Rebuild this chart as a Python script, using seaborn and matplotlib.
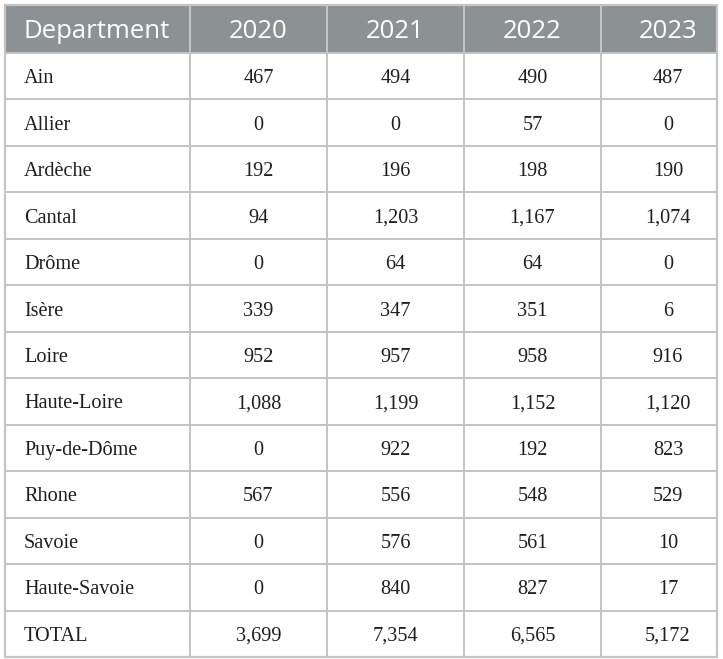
import numpy as np
import matplotlib
matplotlib.use("Agg")
import matplotlib.pyplot as plt
import seaborn as sns
from matplotlib.colors import ListedColormap

departments = ["Ain", "Allier", "Ardèche", "Cantal", "Drôme", "Isère", "Loire",
               "Haute-Loire", "Puy-de-Dôme", "Rhone", "Savoie", "Haute-Savoie", "TOTAL"]
years = ["2020", "2021", "2022", "2023"]
v2020 = [467, 0, 192, 94, 0, 339, 952, 1088, 0, 567, 0, 0, 3699]
v2021 = [494, 0, 196, 1203, 64, 347, 957, 1199, 922, 556, 576, 840, 7354]
v2022 = [490, 57, 198, 1167, 64, 351, 958, 1152, 192, 548, 561, 827, 6565]
v2023 = [487, 0, 190, 1074, 0, 6, 916, 1120, 823, 529, 10, 17, 5172]

sns.set_style("white")

W, H = 723, 659
fig = plt.figure(figsize=(W / 100, H / 100), dpi=100)
left, right, top, bottom = 5, 717, 5, 657
ax = fig.add_axes([left / W, 1 - bottom / H, (right - left) / W, (bottom - top) / H])

col_w = [185, 137, 137, 137, 116]
row_h = [48] + [46.5] * len(departments)
xe = np.concatenate([[0], np.cumsum(col_w)])
ye = np.concatenate([[0], np.cumsum(row_h)])

n_rows = len(row_h)
n_cols = len(col_w)
grid = np.zeros((n_rows, n_cols))
grid[0, :] = 1
cmap = ListedColormap(["white", "#8c9294"])
ax.pcolormesh(xe, ye, grid, cmap=cmap, edgecolor="#c4c4c4", linewidth=1.4, vmin=0, vmax=1)
ax.set_xlim(xe[0], xe[-1])
ax.set_ylim(ye[-1], ye[0])
ax.set_axis_off()
ax.plot([xe[0], xe[-1], xe[-1], xe[0], xe[0]], [ye[0], ye[0], ye[-1], ye[-1], ye[0]],
        color="#c4c4c4", lw=1.6, clip_on=False)

header_font = ["Open Sans", "DejaVu Sans"]
body_font = ["Liberation Serif", "DejaVu Serif"]
txt_color = "#1e1e1e"

ycent = (ye[:-1] + ye[1:]) / 2
xcent = (xe[:-1] + xe[1:]) / 2
xcent[-1] += 9

ax.text(xe[0] + 19, ycent[0], "Department", ha="left", va="center_baseline",
        fontsize=18.5, color="white", family=header_font)
for j, y in enumerate(years):
    ax.text(xcent[j + 1], ycent[0], y, ha="center", va="center_baseline",
            fontsize=18.5, color="white", family=header_font)

cols = [v2020, v2021, v2022, v2023]
for i, d in enumerate(departments):
    ax.text(xe[0] + 19, ycent[i + 1], d, ha="left", va="center_baseline",
            fontsize=14.6, color=txt_color, family=body_font)
    for j, vals in enumerate(cols):
        ax.text(xcent[j + 1], ycent[i + 1], f"{vals[i]:,}", ha="center", va="center_baseline",
                fontsize=14.6, color=txt_color, family=body_font)

fig.savefig("out.png", dpi=100, facecolor="white")
